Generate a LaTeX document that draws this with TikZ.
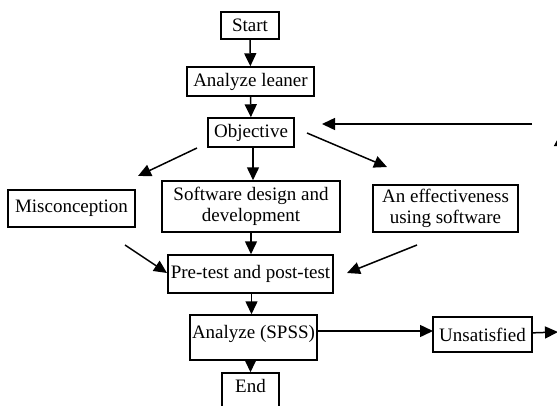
\documentclass[tikz,border=0pt]{standalone}
\usepackage{fontspec}
\setmainfont{Liberation Serif}
\usetikzlibrary{arrows.meta}
\begin{document}
\begin{tikzpicture}[x=1pt,y=-1pt,
  box/.style={draw, line width=1.5pt, inner sep=0pt, align=center,
    font=\fontsize{19}{21}\selectfont},
  arr/.style={line width=1.5pt, -{Triangle[length=13pt,width=12pt]}}]
\useasboundingbox (0,0) rectangle (557,405);
\clip (0,0) rectangle (557,405);
\node[box, minimum width=58, minimum height=27] (start) at (250,25.5) {Start};
\node[box, minimum width=127, minimum height=29] (analyze) at (250.5,81.5) {Analyze leaner};
\node[box, minimum width=86, minimum height=29] (obj) at (251,132.5) {Objective};
\node[box, minimum width=127, minimum height=37] (misc) at (71.5,208.5) {Misconception};
\node[box, minimum width=178, minimum height=51] (soft) at (251,206.5) {Software design and\\development};
\node[box, minimum width=145, minimum height=47] (eff) at (445.5,208.5) {An effectiveness\\using software};
\node[box, minimum width=165, minimum height=38] (pre) at (250.5,274) {Pre-test and post-test};
\node[box, minimum width=127, minimum height=45, text height=12, text depth=10] (spss) at (253.5,337.5) {Analyze (SPSS)};
\node[box, minimum width=99, minimum height=35] (unsat) at (482.5,334.5) {Unsatisfied};
\node[box, minimum width=57, minimum height=40, text height=12, text depth=14] (end) at (250.5,393) {End};
\coordinate (o1) at (197,148);
\coordinate (m1) at (138,176);
\coordinate (o2) at (307,133);
\coordinate (e1) at (387,167);
\coordinate (m2) at (125,245);
\coordinate (p1) at (167,273);
\coordinate (e2) at (417,245);
\coordinate (p2) at (347,273);
\coordinate (r1) at (532,124);
\coordinate (ob) at (322,124);
\coordinate (s1) at (317,331);
\coordinate (s2) at (433,331);
\coordinate (u2) at (558,332);
\coordinate (up1) at (561,330);
\coordinate (up2) at (561,133);
\draw[arr] (start) -- (analyze);
\draw[arr] (analyze) -- (obj);
\draw[arr] ([xshift=2]obj.south) -- ([xshift=2]soft.north);
\draw[arr] (o1) -- (m1);
\draw[arr] (o2) -- (e1);
\draw[arr] (m2) -- (p1);
\draw[arr] (e2) -- (p2);
\draw[arr] (r1) -- (ob);
\draw[arr] (soft) -- (soft.south |- pre.north);
\draw[arr] ([xshift=1]pre.south) -- ([xshift=1]pre.south |- spss.north);
\draw[arr] ([xshift=-3]spss.south) -- ([xshift=-3]spss.south |- end.north);
\draw[arr] (s1) -- (s2);
\draw[arr] (unsat) -- (u2);
\draw[arr, -{Triangle[length=13pt,width=14pt]}] (up1) -- (up2);
\end{tikzpicture}
\end{document}
